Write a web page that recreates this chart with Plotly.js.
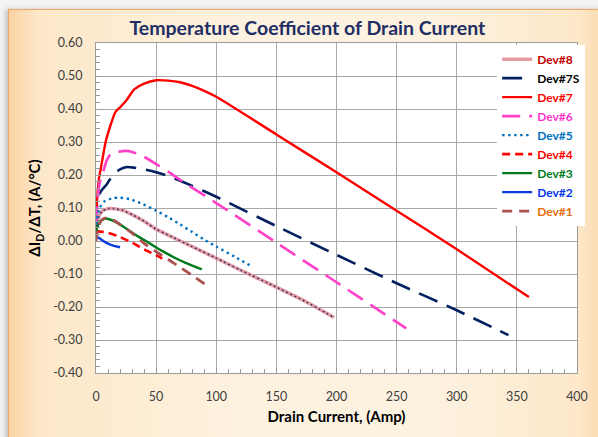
<!DOCTYPE html>
<html>
<head>
<meta charset="utf-8">
<script src="https://cdn.plot.ly/plotly-3.0.1.min.js"></script>
<style>
  html, body { margin:0; padding:0; width:598px; height:437px; overflow:hidden; background:#f3f3f3; }
  #frame { position:absolute; left:8px; top:9px; width:600px; height:440px;
    border:1.5px solid #f2a664;
    background: linear-gradient(to right, #fbd2a2 0%, #fde8c9 5%, #fdf2e0 40%, #fdf2e0 70%, #fde8c9 95%, #fbd6aa 100%);
    box-shadow: -3px 0 4px rgba(120,120,120,0.35); }
  #chart { position:absolute; left:0; top:0; width:598px; height:437px; }
</style>
</head>
<body>
<div id="frame"></div>
<div id="chart"></div>
<script>
// ---- data ----
const dev8_x  = [0, 2, 5, 10, 15, 22, 30, 40, 50, 60, 80, 100, 120, 150, 175, 198];
const dev8_y  = [0.03, 0.07, 0.09, 0.098, 0.098, 0.093, 0.08, 0.06, 0.036, 0.018, -0.017, -0.052, -0.088, -0.14, -0.185, -0.232];

const dev7s_x = [0, 1.7, 5, 9, 14, 20, 26, 32, 40, 50, 60, 80, 100, 150, 200, 250, 300, 343];
const dev7s_y = [0.05, 0.134, 0.155, 0.172, 0.2, 0.217, 0.224, 0.222, 0.217, 0.208, 0.197, 0.167, 0.134, 0.045, -0.042, -0.128, -0.21, -0.285];

const dev7_x  = [0, 1, 2.5, 4.5, 8, 12, 16, 20, 25, 32, 40, 50, 60, 70, 80, 90, 100, 150, 200, 250, 300, 360];
const dev7_y  = [0.05, 0.13, 0.19, 0.23, 0.3, 0.35, 0.39, 0.405, 0.425, 0.46, 0.477, 0.487, 0.486, 0.481, 0.47, 0.455, 0.437, 0.323, 0.208, 0.092, -0.025, -0.17];

const dev6_x  = [0, 1.5, 3, 6, 9, 12, 18, 25, 30, 40, 50, 60, 70, 100, 150, 200, 258];
const dev6_y  = [0.05, 0.13, 0.175, 0.21, 0.245, 0.262, 0.27, 0.273, 0.27, 0.255, 0.233, 0.21, 0.185, 0.115, -0.005, -0.125, -0.265];

const dev5_x  = [0, 3, 7, 14, 20, 28, 37, 50, 60, 70, 80, 90, 100, 115, 130];
const dev5_y  = [0.05, 0.1, 0.12, 0.13, 0.131, 0.127, 0.115, 0.092, 0.072, 0.05, 0.027, 0.004, -0.017, -0.047, -0.078];

const dev4_x  = [0, 5, 10, 20, 30, 40, 50, 55];
const dev4_y  = [0.03, 0.028, 0.025, 0.012, -0.005, -0.025, -0.043, -0.053];

const dev3_x  = [0, 3, 8, 15, 25, 35, 45, 55, 65, 75, 88];
const dev3_y  = [0.03, 0.058, 0.068, 0.06, 0.038, 0.014, -0.008, -0.03, -0.05, -0.067, -0.086];

const dev2_x  = [0, 3, 6, 10, 15, 20];
const dev2_y  = [0.013, 0.008, 0.0, -0.008, -0.015, -0.019];

const dev1_x  = [0, 2, 5, 9, 15, 22, 30, 40, 50, 60, 70, 80, 95];
const dev1_y  = [0.0, 0.045, 0.065, 0.07, 0.062, 0.045, 0.024, -0.007, -0.032, -0.056, -0.08, -0.104, -0.142];

const yTickVals = [-0.4, -0.3, -0.2, -0.1, 0, 0.1, 0.2, 0.3, 0.4, 0.5, 0.6];
const yTickText = ["-0.40", "-0.30", "-0.20", "-0.10", "0.00", "0.10", "0.20", "0.30", "0.40", "0.50", "0.60"];

function nm(label, color) { return '<span style="color:' + color + '">' + label + '</span>'; }

const traces = [
  {x: dev8_x, y: dev8_y, name: nm('Dev#8', '#c00000'), legendgroup: 'g8', line: {color: '#e79aa2', width: 3.5}},
  {x: dev8_x, y: dev8_y, name: 'dev8dots', legendgroup: 'g8', showlegend: false, line: {color: '#28306a', width: 1.6, dash: '1.6px,3px'}},
  {x: dev7s_x, y: dev7s_y, name: nm('Dev#7S', '#000000'), legendgroup: 'g7s', line: {color: '#002060', width: 2.6, dash: '20px,10px'}},
  {x: dev7_x, y: dev7_y, name: nm('Dev#7', '#ff0000'), legendgroup: 'g7', line: {color: '#ff0000', width: 2.4}},
  {x: dev6_x, y: dev6_y, name: nm('Dev#6', '#ff33cc'), legendgroup: 'g6', line: {color: '#ff40c8', width: 2.6, dash: '18px,9px'}},
  {x: dev5_x, y: dev5_y, name: nm('Dev#5', '#0070c0'), legendgroup: 'g5', line: {color: '#0070c0', width: 2.4, dash: '2.4px,3.6px'}},
  {x: dev4_x, y: dev4_y, name: nm('Dev#4', '#ff0000'), legendgroup: 'g4', line: {color: '#ff0000', width: 2.6, dash: '8px,5px'}},
  {x: dev3_x, y: dev3_y, name: nm('Dev#3', '#007a1e'), legendgroup: 'g3', line: {color: '#007a1e', width: 2.4}},
  {x: dev2_x, y: dev2_y, name: nm('Dev#2', '#0033ee'), legendgroup: 'g2', line: {color: '#0a3ce0', width: 2.4}},
  {x: dev1_x, y: dev1_y, name: nm('Dev#1', '#e46c0a'), legendgroup: 'g1', line: {color: '#a9514e', width: 2.8, dash: '10px,7px'}}
];
traces.forEach(t => { t.type = 'scatter'; t.mode = 'lines'; t.line.shape = 'spline'; t.line.smoothing = 0.6; });

const layout = {
  width: 598, height: 437,
  margin: {l: 96, r: 21, t: 43, b: 64},
  paper_bgcolor: 'rgba(0,0,0,0)',
  plot_bgcolor: '#ffffff',
  font: {family: 'Lato, "Open Sans", sans-serif', color: '#404040', size: 12},
  title: {text: 'Temperature Coefficient of Drain Current', font: {family: 'Lato, sans-serif', size: 19.5, color: '#1f2f66', weight: 'bold'},
          x: 0.514, xanchor: 'center', y: 0.935, yanchor: 'middle'},
  xaxis: {
    range: [0, 400], dtick: 50, tick0: 0,
    showgrid: true, gridcolor: '#a8a8a8', gridwidth: 1,
    zeroline: false, showline: true, linecolor: '#9a9a9a', linewidth: 1, mirror: true,
    ticks: 'inside', ticklen: 5, tickcolor: '#9a9a9a',
    minor: {dtick: 10, ticks: 'inside', ticklen: 4, tickcolor: '#9a9a9a', showgrid: false},
    ticklabelstandoff: 12,
    tickfont: {size: 12.5, color: '#404040'},
    title: {text: 'Drain Current, (Amp)', font: {size: 15, color: '#000000', weight: 'bold'}, standoff: 8}
  },
  yaxis: {
    range: [-0.4, 0.6], tickvals: yTickVals, ticktext: yTickText,
    showgrid: true, gridcolor: '#a8a8a8', gridwidth: 1,
    zeroline: false, showline: true, linecolor: '#9a9a9a', linewidth: 1, mirror: true,
    ticks: 'inside', ticklen: 5, tickcolor: '#9a9a9a',
    minor: {dtick: 0.02, tick0: 0, ticks: 'inside', ticklen: 4, tickcolor: '#9a9a9a', showgrid: false},
    ticklabelstandoff: 10,
    tickfont: {size: 12.5, color: '#404040'},
    title: {text: 'ΔI<sub>D</sub>/ΔT, (A/°C)', font: {size: 15, color: '#000000', weight: 'bold'}, standoff: 8}
  },
  showlegend: true,
  legend: {x: 0.834, y: 0.995, xanchor: 'left', yanchor: 'top', bgcolor: '#ffffff', borderwidth: 0,
           font: {size: 12, weight: 'bold'}, tracegroupgap: 0, itemwidth: 30, traceorder: 'grouped'}
};

Plotly.newPlot('chart', traces, layout, {staticPlot: true, displayModeBar: false});
</script>
</body>
</html>
